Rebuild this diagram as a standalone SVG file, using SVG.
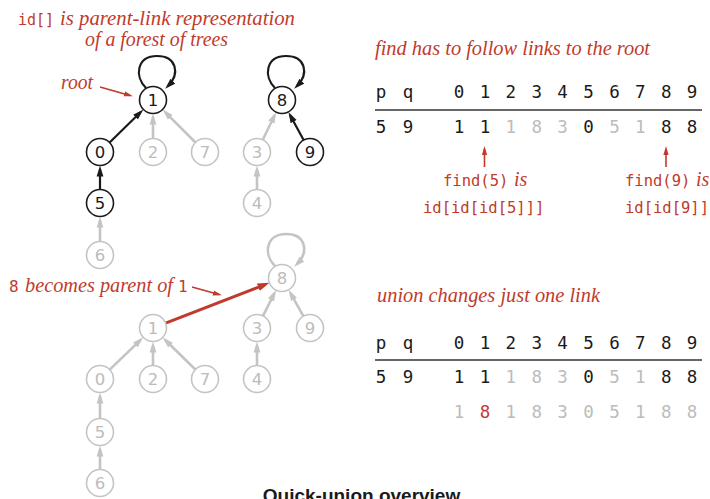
<svg xmlns="http://www.w3.org/2000/svg" width="710" height="499" viewBox="0 0 710 499">
<style>
.nb circle{fill:#fff;stroke:#1a1a1a;stroke-width:1.6}
.nb text{fill:#1a1a1a}
.ng circle{fill:#fff;stroke:#c4c4c4;stroke-width:1.6}
.ng text{fill:#bcbcbc}
.node text{font-family:"DejaVu Sans",sans-serif;font-size:16.5px;text-anchor:middle}
.eb{stroke:#1a1a1a;stroke-width:2.2;fill:none;marker-end:url(#ab)}
.eg{stroke:#c4c4c4;stroke-width:2.6;fill:none;marker-end:url(#ag)}
.er{stroke:#bf3b2c;stroke-width:3;fill:none;marker-end:url(#ar)}
.pr{stroke:#bf3b2c;stroke-width:1.6;fill:none;marker-end:url(#ars)}
.it{font-family:"Liberation Serif",serif;font-style:italic;font-size:20px;fill:#bf3b2c}
.mr{font-family:"DejaVu Sans Mono",monospace;font-size:15.5px;fill:#bf3b2c}
.tb{font-family:"DejaVu Sans Mono",monospace;font-size:17.5px;text-anchor:middle;fill:#1a1a1a}
.tg{fill:#bcbcbc}
.tr{fill:#bf3b2c}
.rule{stroke:#333;stroke-width:1.5}
.cap{font-family:"Liberation Sans",sans-serif;font-weight:bold;font-size:19px;text-anchor:middle;fill:#1a1a1a}
</style>
<defs>
<marker id="ab" markerUnits="userSpaceOnUse" viewBox="0 0 11 8" markerWidth="11" markerHeight="8" refX="7" refY="4" orient="auto"><path d="M0,0.6 L11,4 L0,7.4 z" fill="#1a1a1a"/></marker>
<marker id="ag" markerUnits="userSpaceOnUse" viewBox="0 0 11 8" markerWidth="11" markerHeight="8" refX="7" refY="4" orient="auto"><path d="M0,0.6 L11,4 L0,7.4 z" fill="#c4c4c4"/></marker>
<marker id="ar" markerUnits="userSpaceOnUse" viewBox="0 0 12 9" markerWidth="12" markerHeight="9" refX="8" refY="4.5" orient="auto"><path d="M0,0.5 L12,4.5 L0,8.5 z" fill="#bf3b2c"/></marker>
<marker id="ars" markerUnits="userSpaceOnUse" viewBox="0 0 9 6" markerWidth="9" markerHeight="6" refX="6" refY="3" orient="auto"><path d="M0,0.4 L9,3 L0,5.6 z" fill="#bf3b2c"/></marker>
</defs>

<g id="connectors">
<path class="eb" d="M146,88 C134,76 137,56 157,56 C177,56 180,74 168,86"/>
<path class="eb" d="M275,88 C263,76 266,56 286,56 C306,56 309,74 297,86"/>
<line class="eb" x1="109.6" y1="142.5" x2="140.5" y2="112.3"/>
<line class="eg" x1="153" y1="138.5" x2="153" y2="117.5"/>
<line class="eg" x1="195.5" y1="142.5" x2="165.4" y2="112.4"/>
<line class="eb" x1="100" y1="189.5" x2="100" y2="169.5"/>
<line class="eg" x1="100" y1="241.5" x2="100" y2="220.5"/>
<line class="eg" x1="262.8" y1="139.8" x2="274.4" y2="115.8"/>
<line class="eb" x1="303.6" y1="140.1" x2="290.3" y2="115.4"/>
<line class="eg" x1="257" y1="189.5" x2="257" y2="169.5"/>
<path class="eg" d="M275,266 C263,254 266,234 286,234 C306,234 309,252 297,264"/>
<line class="er" x1="165.6" y1="323.1" x2="265.7" y2="284.3"/>
<line class="eg" x1="263" y1="315.9" x2="274.2" y2="293.6"/>
<line class="eg" x1="303.4" y1="316.2" x2="290.6" y2="293.3"/>
<line class="eg" x1="109.7" y1="369.6" x2="140.4" y2="340.1"/>
<line class="eg" x1="153" y1="365.5" x2="153" y2="345.5"/>
<line class="eg" x1="195.4" y1="369.5" x2="165.5" y2="340.3"/>
<line class="eg" x1="257" y1="365.5" x2="257" y2="345.5"/>
<line class="eg" x1="100" y1="418.5" x2="100" y2="396.5"/>
<line class="eg" x1="100" y1="469.5" x2="100" y2="449.5"/>
<line class="pr" x1="100" y1="87" x2="130" y2="95.5"/>
<line class="pr" x1="192" y1="287" x2="219" y2="294.5"/>
<line class="pr" x1="484.5" y1="167" x2="484.5" y2="149"/>
<line class="pr" x1="666" y1="167" x2="666" y2="149"/>
</g>

<g id="t-n1" class="node nb"><circle cx="153" cy="100" r="13.5"/><text x="153" y="106">1</text></g>
<g id="t-n0" class="node nb"><circle cx="100" cy="152" r="13.5"/><text x="100" y="158">0</text></g>
<g id="t-n2" class="node ng"><circle cx="153" cy="152" r="13.5"/><text x="153" y="158">2</text></g>
<g id="t-n7" class="node ng"><circle cx="205" cy="152" r="13.5"/><text x="205" y="158">7</text></g>
<g id="t-n5" class="node nb"><circle cx="100" cy="203" r="13.5"/><text x="100" y="209">5</text></g>
<g id="t-n6" class="node ng"><circle cx="100" cy="255" r="13.5"/><text x="100" y="261">6</text></g>
<g id="t-n8" class="node nb"><circle cx="282" cy="100" r="13.5"/><text x="282" y="106">8</text></g>
<g id="t-n3" class="node ng"><circle cx="257" cy="152" r="13.5"/><text x="257" y="158">3</text></g>
<g id="t-n9" class="node nb"><circle cx="310" cy="152" r="13.5"/><text x="310" y="158">9</text></g>
<g id="t-n4" class="node ng"><circle cx="257" cy="203" r="13.5"/><text x="257" y="209">4</text></g>

<g id="b-n8" class="node ng"><circle cx="282" cy="278" r="13.5"/><text x="282" y="284">8</text></g>
<g id="b-n1" class="node ng"><circle cx="153" cy="328" r="13.5"/><text x="153" y="334">1</text></g>
<g id="b-n3" class="node ng"><circle cx="257" cy="328" r="13.5"/><text x="257" y="334">3</text></g>
<g id="b-n9" class="node ng"><circle cx="310" cy="328" r="13.5"/><text x="310" y="334">9</text></g>
<g id="b-n0" class="node ng"><circle cx="100" cy="379" r="13.5"/><text x="100" y="385">0</text></g>
<g id="b-n2" class="node ng"><circle cx="153" cy="379" r="13.5"/><text x="153" y="385">2</text></g>
<g id="b-n7" class="node ng"><circle cx="205" cy="379" r="13.5"/><text x="205" y="385">7</text></g>
<g id="b-n4" class="node ng"><circle cx="257" cy="379" r="13.5"/><text x="257" y="385">4</text></g>
<g id="b-n5" class="node ng"><circle cx="100" cy="432" r="13.5"/><text x="100" y="438">5</text></g>
<g id="b-n6" class="node ng"><circle cx="100" cy="483" r="13.5"/><text x="100" y="489">6</text></g>

<g id="labels">
<text class="mr" x="18" y="25" style="font-size:15px">id[]</text>
<text class="it" x="60" y="25" textLength="235" lengthAdjust="spacingAndGlyphs">is parent-link representation</text>
<text class="it" x="85" y="46" textLength="143" lengthAdjust="spacingAndGlyphs">of a forest of trees</text>
<text class="it" x="61" y="89" textLength="32" lengthAdjust="spacingAndGlyphs">root</text>
<text class="mr" x="9" y="292" style="font-size:16px">8</text>
<text class="it" x="25" y="292" textLength="148" lengthAdjust="spacingAndGlyphs">becomes parent of</text>
<text class="mr" x="178" y="292" style="font-size:16px">1</text>

<text class="it" x="375" y="55" textLength="275" lengthAdjust="spacingAndGlyphs">find has to follow links to the root</text>
<text class="mr" x="443" y="186">find(5)</text>
<text class="it" x="514" y="186">is</text>
<text class="mr" x="423" y="213">id[id[id[5]]]</text>
<text class="mr" x="625" y="186">find(9)</text>
<text class="it" x="696" y="186">is</text>
<text class="mr" x="625" y="213">id[id[9]]</text>

<text class="it" x="377" y="302" textLength="223" lengthAdjust="spacingAndGlyphs">union changes just one link</text>
</g>

<g id="table-find">
<text class="tb" x="381" y="98">p</text><text class="tb" x="408" y="98">q</text>
<text class="tb" x="459" y="98">0</text><text class="tb" x="484.9" y="98">1</text><text class="tb" x="510.8" y="98">2</text><text class="tb" x="536.7" y="98">3</text><text class="tb" x="562.6" y="98">4</text><text class="tb" x="588.5" y="98">5</text><text class="tb" x="614.4" y="98">6</text><text class="tb" x="640.3" y="98">7</text><text class="tb" x="666.2" y="98">8</text><text class="tb" x="692.1" y="98">9</text>
<line class="rule" x1="375" y1="110" x2="702" y2="110"/>
<text class="tb" x="381" y="133">5</text><text class="tb" x="408" y="133">9</text>
<text class="tb" x="459" y="133">1</text><text class="tb" x="484.9" y="133">1</text><text class="tb tg" x="510.8" y="133">1</text><text class="tb tg" x="536.7" y="133">8</text><text class="tb tg" x="562.6" y="133">3</text><text class="tb" x="588.5" y="133">0</text><text class="tb tg" x="614.4" y="133">5</text><text class="tb tg" x="640.3" y="133">1</text><text class="tb" x="666.2" y="133">8</text><text class="tb" x="692.1" y="133">8</text>
</g>

<g id="table-union">
<text class="tb" x="381" y="349">p</text><text class="tb" x="408" y="349">q</text>
<text class="tb" x="459" y="349">0</text><text class="tb" x="484.9" y="349">1</text><text class="tb" x="510.8" y="349">2</text><text class="tb" x="536.7" y="349">3</text><text class="tb" x="562.6" y="349">4</text><text class="tb" x="588.5" y="349">5</text><text class="tb" x="614.4" y="349">6</text><text class="tb" x="640.3" y="349">7</text><text class="tb" x="666.2" y="349">8</text><text class="tb" x="692.1" y="349">9</text>
<line class="rule" x1="375" y1="360" x2="702" y2="360"/>
<text class="tb" x="381" y="383">5</text><text class="tb" x="408" y="383">9</text>
<text class="tb" x="459" y="383">1</text><text class="tb" x="484.9" y="383">1</text><text class="tb tg" x="510.8" y="383">1</text><text class="tb tg" x="536.7" y="383">8</text><text class="tb tg" x="562.6" y="383">3</text><text class="tb" x="588.5" y="383">0</text><text class="tb tg" x="614.4" y="383">5</text><text class="tb tg" x="640.3" y="383">1</text><text class="tb" x="666.2" y="383">8</text><text class="tb" x="692.1" y="383">8</text>
<text class="tb tg" x="459" y="418">1</text><text class="tb tr" x="484.9" y="418">8</text><text class="tb tg" x="510.8" y="418">1</text><text class="tb tg" x="536.7" y="418">8</text><text class="tb tg" x="562.6" y="418">3</text><text class="tb tg" x="588.5" y="418">0</text><text class="tb tg" x="614.4" y="418">5</text><text class="tb tg" x="640.3" y="418">1</text><text class="tb tg" x="666.2" y="418">8</text><text class="tb tg" x="692.1" y="418">8</text>
</g>

<text class="cap" x="361.5" y="502">Quick-union overview</text>
</svg>
